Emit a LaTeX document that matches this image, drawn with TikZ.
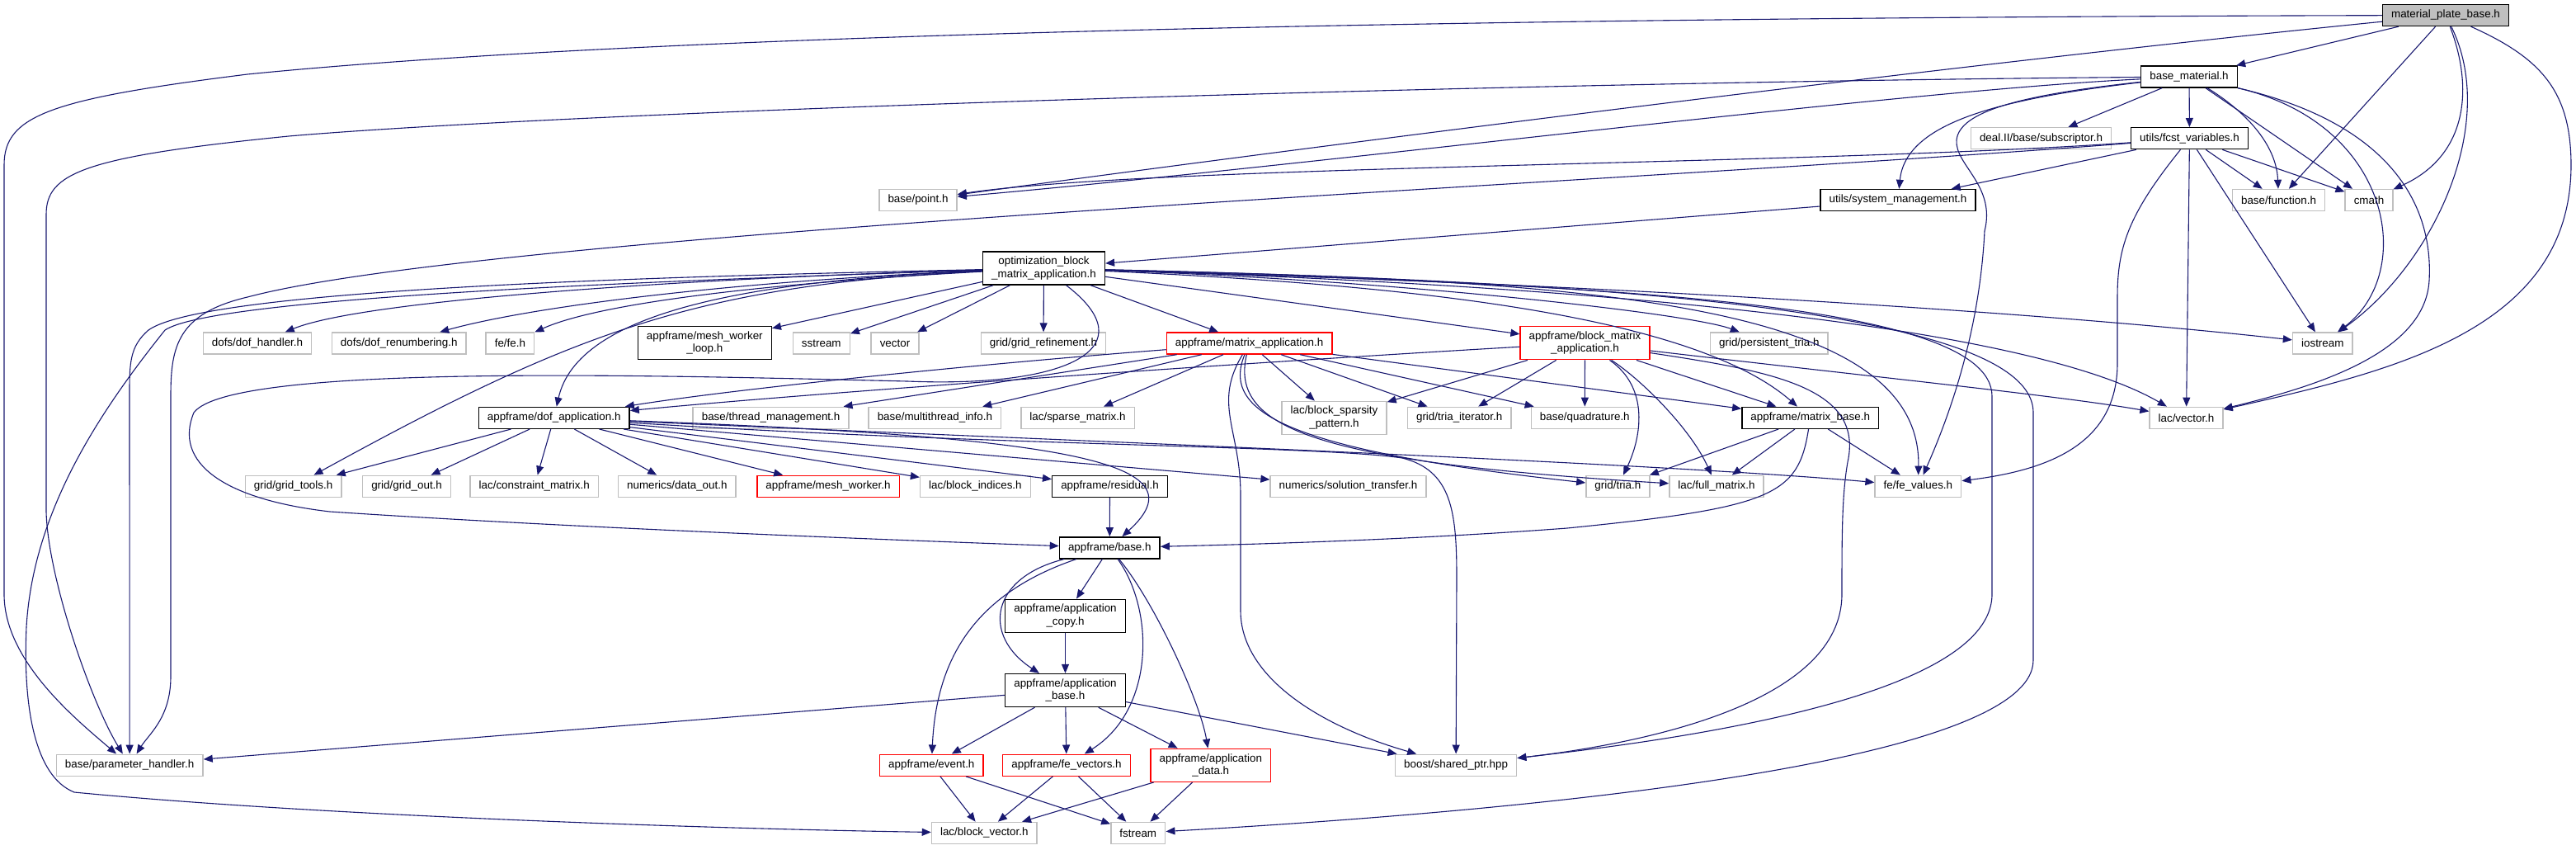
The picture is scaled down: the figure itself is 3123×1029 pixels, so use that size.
\documentclass[tikz,border=0pt]{standalone}
\usepackage{fontspec}
\setmainfont{Liberation Sans}
\usetikzlibrary{arrows.meta}
\definecolor{incblue}{HTML}{191970}
\definecolor{extgray}{HTML}{BFBFBF}
\begin{document}
\begin{tikzpicture}[x=0.5pt, y=-0.5pt, >={Triangle[length=5.5pt,width=4.5pt]},
  box/.style={draw, fill=white, font=\fontsize{6.7}{7.8}\selectfont, inner xsep=5.3pt, inner ysep=3pt, minimum height=13pt, align=center, line width=0.7pt},
  ext/.style={box, draw=extgray},
  doc/.style={box, draw=black},
  trunc/.style={box, draw=red},
  root/.style={box, draw=black, fill=extgray},
  inc/.style={->, draw=incblue, line width=0.55pt}]
\useasboundingbox (0,0) rectangle (3123,1029);
\node[root] (mpb) at (2965,18.5) {material\_plate\_base.h};
\node[doc] (bmat) at (2654,93) {base\_material.h};
\node[ext] (subs) at (2474.5,167.7) {deal.II/base/subscriptor.h};
\node[doc] (fcst) at (2654.5,167.7) {utils/fcst\_variables.h};
\node[ext] (point) at (1113,242.5) {base/point.h};
\node[doc] (sysm) at (2301,242.5) {utils/system\_management.h};
\node[ext] (func) at (2762.5,242.5) {base/function.h};
\node[ext] (cmath) at (2872,242.5) {cmath};
\node[doc] (opt) at (1265.5,325) {optimization\_block\\\_matrix\_application.h};
\node[ext] (dofh) at (312,416) {dofs/dof\_handler.h};
\node[ext] (dofr) at (483.7,416) {dofs/dof\_renumbering.h};
\node[ext] (fefe) at (618.4,416) {fe/fe.h};
\node[doc] (mwl) at (854.3,415.7) {appframe/mesh\_worker\\\_loop.h};
\node[ext] (sstr) at (995.8,416) {sstream};
\node[ext] (vec) at (1085,416) {vector};
\node[ext] (gref) at (1265,416) {grid/grid\_refinement.h};
\node[trunc] (matapp) at (1514.6,416) {appframe/matrix\_application.h};
\node[trunc] (bmapp) at (1921.5,415.7) {appframe/block\_matrix\\\_application.h};
\node[ext] (ptria) at (2144.8,416) {grid/persistent\_tria.h};
\node[ext] (iostr) at (2815.8,416) {iostream};
\node[doc] (dofapp) at (671.7,506.3) {appframe/dof\_application.h};
\node[ext] (thrd) at (934.6,506.3) {base/thread\_management.h};
\node[ext] (mthr) at (1133.4,506.3) {base/multithread\_info.h};
\node[ext] (spm) at (1306.5,506.3) {lac/sparse\_matrix.h};
\node[ext] (bsp) at (1617.5,506.3) {lac/block\_sparsity\\\_pattern.h};
\node[ext] (triait) at (1769.2,506.3) {grid/tria\_iterator.h};
\node[ext] (quad) at (1921.3,506.3) {base/quadrature.h};
\node[doc] (matbase) at (2194.7,506.3) {appframe/matrix\_base.h};
\node[ext] (lvec) at (2650.5,506.3) {lac/vector.h};
\node[ext] (gtools) at (355.6,589.3) {grid/grid\_tools.h};
\node[ext] (gout) at (493.1,589.3) {grid/grid\_out.h};
\node[ext] (cmat) at (647.7,589.3) {lac/constraint\_matrix.h};
\node[ext] (dout) at (820.8,589.3) {numerics/data\_out.h};
\node[trunc] (mw) at (1004,589.3) {appframe/mesh\_worker.h};
\node[ext] (bind) at (1182.4,589.3) {lac/block\_indices.h};
\node[doc] (resid) at (1345.5,589.3) {appframe/residual.h};
\node[ext] (soltr) at (1634.5,589.3) {numerics/solution\_transfer.h};
\node[ext] (tria) at (1961.4,589.3) {grid/tria.h};
\node[ext] (fullm) at (2081,589.3) {lac/full\_matrix.h};
\node[ext] (fev) at (2325.4,589.3) {fe/fe\_values.h};
\node[doc] (abase) at (1345.3,663.8) {appframe/base.h};
\node[doc] (acopy) at (1291.5,746.3) {appframe/application\\\_copy.h};
\node[doc] (appb) at (1291.5,836.5) {appframe/application\\\_base.h};
\node[ext] (param) at (157.2,927.2) {base/parameter\_handler.h};
\node[trunc] (event) at (1129.3,927.2) {appframe/event.h};
\node[trunc] (fevec) at (1293,927.2) {appframe/fe\_vectors.h};
\node[trunc] (adata) at (1467.8,927.3) {appframe/application\\\_data.h};
\node[ext] (shptr) at (1765.1,927.2) {boost/shared\_ptr.hpp};
\node[ext] (bvec) at (1193.3,1009.4) {lac/block\_vector.h};
\node[ext] (fstr) at (1379.8,1009.4) {fstream};
\draw[inc] (mpb) .. controls (1500,22) and (700,50) .. (300,90) .. controls (60,120) and (5,140) .. (5,200) -- (5,720) .. controls (5,800) and (90,870) .. (param);
\draw[inc] (mpb) .. controls (2300,85) and (1500,190) .. (point);
\draw[inc] (mpb) -- (bmat);
\draw[inc] (mpb) -- (func);
\draw[inc] (mpb) .. controls (3000,110) and (2990,190) .. (cmath);
\draw[inc] (mpb) .. controls (3030,150) and (2950,320) .. (iostr);
\draw[inc] (mpb) .. controls (3080,70) and (3117,110) .. (3117,200) .. controls (3117,400) and (2900,450) .. (lvec);
\draw[inc] (bmat) .. controls (1800,100) and (700,135) .. (350,165) .. controls (100,190) and (56,210) .. (56,260) -- (56,620) .. controls (58,700) and (110,850) .. (param);
\draw[inc] (bmat) .. controls (2300,110) and (1600,200) .. (point);
\draw[inc] (bmat) -- (subs);
\draw[inc] (bmat) -- (fcst);
\draw[inc] (bmat) .. controls (2420,120) and (2310,150) .. (sysm);
\draw[inc] (bmat) .. controls (2730,140) and (2760,180) .. (func);
\draw[inc] (bmat) -- (cmath);
\draw[inc] (bmat) .. controls (2900,150) and (2930,330) .. (iostr);
\draw[inc] (bmat) .. controls (2900,150) and (2950,250) .. (2945,340) .. controls (2940,430) and (2800,470) .. (lvec);
\draw[inc] (bmat) .. controls (2450,115) and (2375,135) .. (2372,170) .. controls (2370,200) and (2420,225) .. (2406,280) .. controls (2400,400) and (2365,500) .. (fev);
\draw[inc] (fcst) .. controls (2000,220) and (600,280) .. (300,360) .. controls (215,380) and (207,420) .. (207,480) -- (207,820) .. controls (207,870) and (180,890) .. (param);
\draw[inc] (fcst) .. controls (2200,200) and (1400,200) .. (point);
\draw[inc] (fcst) -- (sysm);
\draw[inc] (fcst) -- (func);
\draw[inc] (fcst) -- (cmath);
\draw[inc] (fcst) -- (iostr);
\draw[inc] (fcst) -- (lvec);
\draw[inc] (fcst) .. controls (2580,260) and (2567,300) .. (2567,360) -- (2567,440) .. controls (2567,540) and (2480,570) .. (fev);
\draw[inc] (sysm) -- (opt);
\draw[inc] (opt) .. controls (900,335) and (450,360) .. (dofh);
\draw[inc] (opt) .. controls (900,340) and (650,370) .. (dofr);
\draw[inc] (opt) .. controls (900,345) and (720,370) .. (fefe);
\draw[inc] (opt) -- (mwl);
\draw[inc] (opt) -- (sstr);
\draw[inc] (opt) -- (vec);
\draw[inc] (opt) -- (gref);
\draw[inc] (opt) -- (matapp);
\draw[inc] (opt) -- (bmapp);
\draw[inc] (opt) .. controls (1700,340) and (2050,380) .. (ptria);
\draw[inc] (opt) .. controls (1800,340) and (2400,370) .. (iostr);
\draw[inc] (opt) .. controls (1900,345) and (2450,390) .. (lvec);
\draw[inc] (opt) .. controls (900,340) and (700,380) .. (dofapp);
\draw[inc] (opt) .. controls (850,345) and (700,400) .. (gtools);
\draw[inc] (opt) .. controls (800,335) and (250,350) .. (180,400) .. controls (157,420) and (157,440) .. (157,480) -- (param);
\draw[inc] (opt) .. controls (800,340) and (260,360) .. (200,400) .. controls (120,500) and (40,620) .. (32,760) .. controls (28,850) and (40,940) .. (90,960) .. controls (400,990) and (900,1005) .. (bvec);
\draw[inc] (opt) .. controls (1900,340) and (2330,360) .. (fev);
\draw[inc] (opt) .. controls (1700,345) and (2050,380) .. (matbase);
\draw[inc] (opt) .. controls (1900,345) and (2415,360) .. (2415,480) -- (2415,720) .. controls (2415,850) and (2000,900) .. (shptr);
\draw[inc] (opt) .. controls (1900,340) and (2465,370) .. (2465,500) -- (2465,800) .. controls (2465,920) and (1900,980) .. (fstr);
\draw[inc] (opt) .. controls (1390,420) and (1300,470) .. (1100,462) .. controls (800,455) and (280,440) .. (235,500) .. controls (210,560) and (270,605) .. (400,620) .. controls (700,640) and (1100,655) .. (abase);
\draw[inc] (matapp) .. controls (1200,440) and (900,470) .. (dofapp);
\draw[inc] (matapp) -- (thrd);
\draw[inc] (matapp) -- (mthr);
\draw[inc] (matapp) -- (spm);
\draw[inc] (matapp) -- (bsp);
\draw[inc] (matapp) -- (triait);
\draw[inc] (matapp) -- (quad);
\draw[inc] (matapp) -- (matbase);
\draw[inc] (matapp) .. controls (1480,500) and (1560,545) .. (tria);
\draw[inc] (matapp) .. controls (1490,520) and (1600,560) .. (fullm);
\draw[inc] (matapp) .. controls (1470,490) and (1504,520) .. (1504,600) -- (1504,740) .. controls (1504,820) and (1600,880) .. (shptr);
\draw[inc] (bmapp) .. controls (1500,440) and (1000,475) .. (dofapp);
\draw[inc] (bmapp) -- (bsp);
\draw[inc] (bmapp) -- (triait);
\draw[inc] (bmapp) -- (quad);
\draw[inc] (bmapp) -- (matbase);
\draw[inc] (bmapp) .. controls (2000,470) and (1990,530) .. (tria);
\draw[inc] (bmapp) .. controls (1990,460) and (2050,520) .. (fullm);
\draw[inc] (bmapp) .. controls (2300,460) and (2500,480) .. (lvec);
\draw[inc] (bmapp) .. controls (2150,450) and (2260,470) .. (2240,560) .. controls (2233,600) and (2233,650) .. (2233,720) .. controls (2233,850) and (2000,900) .. (shptr);
\draw[inc] (dofapp) -- (gtools);
\draw[inc] (dofapp) -- (gout);
\draw[inc] (dofapp) -- (cmat);
\draw[inc] (dofapp) -- (dout);
\draw[inc] (dofapp) -- (mw);
\draw[inc] (dofapp) -- (bind);
\draw[inc] (dofapp) -- (resid);
\draw[inc] (dofapp) -- (soltr);
\draw[inc] (dofapp) .. controls (1200,530) and (2000,560) .. (fev);
\draw[inc] (dofapp) .. controls (1300,530) and (1460,560) .. (abase);
\draw[inc] (dofapp) .. controls (1200,540) and (1600,540) .. (1700,555) .. controls (1760,570) and (1766,620) .. (1766,700) -- (shptr);
\draw[inc] (matbase) -- (tria);
\draw[inc] (matbase) -- (fullm);
\draw[inc] (matbase) -- (fev);
\draw[inc] (matbase) .. controls (2180,600) and (2150,615) .. (1900,640) .. controls (1700,655) and (1500,660) .. (abase);
\draw[inc] (resid) -- (abase);
\draw[inc] (abase) -- (acopy);
\draw[inc] (abase) .. controls (1200,700) and (1190,770) .. (appb);
\draw[inc] (abase) .. controls (1180,720) and (1135,800) .. (event);
\draw[inc] (abase) .. controls (1400,740) and (1400,860) .. (fevec);
\draw[inc] (abase) .. controls (1400,730) and (1455,850) .. (adata);
\draw[inc] (acopy) -- (appb);
\draw[inc] (appb) -- (param);
\draw[inc] (appb) -- (event);
\draw[inc] (appb) -- (fevec);
\draw[inc] (appb) -- (adata);
\draw[inc] (appb) -- (shptr);
\draw[inc] (event) -- (bvec);
\draw[inc] (event) -- (fstr);
\draw[inc] (fevec) -- (bvec);
\draw[inc] (fevec) -- (fstr);
\draw[inc] (adata) -- (bvec);
\draw[inc] (adata) -- (fstr);
\end{tikzpicture}
\end{document}
